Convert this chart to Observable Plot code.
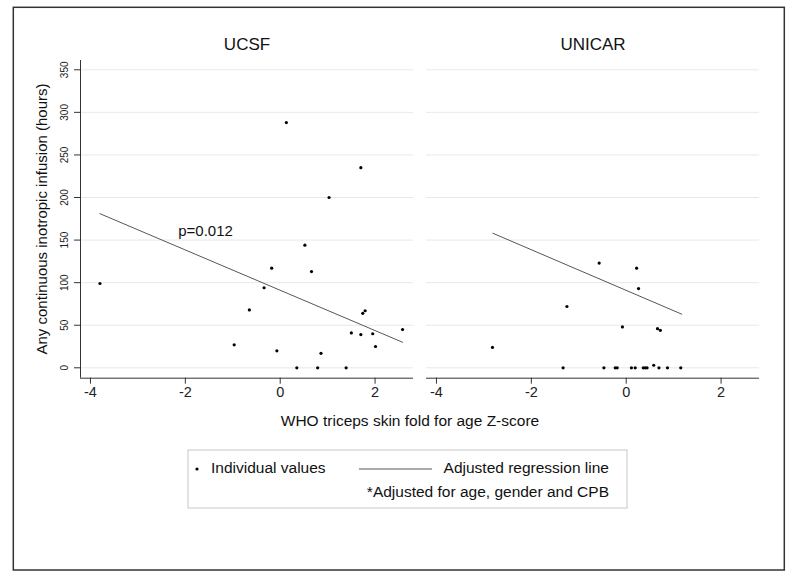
<!DOCTYPE html>
<html><head><meta charset="utf-8">
<script src="https://cdn.jsdelivr.net/npm/d3@7"></script>
<script src="https://cdn.jsdelivr.net/npm/@observablehq/plot@0.6"></script>
<style>html,body{margin:0;padding:0;background:#fff;} #chart{width:800px;height:584px;}</style>
</head><body><div id="chart"></div>
<script>
// ---- data ----
const sites = ["UCSF", "UNICAR"];
const ucsfX = [-3.80, 0.13, 1.70, 1.03, 0.52, 0.66, -0.18, -0.34, -0.65, -0.97, -0.07, 0.35, 0.79, 0.86, 1.39, 1.50, 1.70, 1.74, 1.79, 1.95, 2.01, 2.58];
const ucsfY = [99, 288, 235, 200, 144, 113, 117, 94, 68, 27, 20, 0, 0, 17, 0, 41, 39, 64, 67, 40, 25, 45];
const unicarX = [-2.82, -1.33, -1.25, -0.57, -0.47, -0.23, -0.19, -0.08, 0.11, 0.19, 0.22, 0.26, 0.36, 0.40, 0.44, 0.58, 0.66, 0.69, 0.72, 0.87, 1.15];
const unicarY = [24, 0, 72, 123, 0, 0, 0, 48, 0, 0, 117, 93, 0, 0, 0, 3, 46, 0, 44, 0, 0];
const ucsfLineX = [-3.80, 2.58];
const ucsfLineY = [181, 30];
const unicarLineX = [-2.81, 1.17];
const unicarLineY = [158, 63];
const xTicks = [-4, -2, 0, 2];
const yTicks = [0, 50, 100, 150, 200, 250, 300, 350];
const xDomain = [-4.21, 2.81];
const yDomain = [-12.2, 360.9];
const annotations = [{site: "UCSF", x: -2.15, y: 161, label: "p=0.012"}];
const xLabel = "WHO triceps skin fold for age Z-score";
const yLabel = "Any continuous inotropic infusion (hours)";
const legendDots = "Individual values";
const legendLine = "Adjusted regression line";
const legendNote = "*Adjusted for age, gender and CPB";

// ---- tables ----
const points = [
  ...ucsfX.map((x, i) => ({site: "UCSF", x, y: ucsfY[i]})),
  ...unicarX.map((x, i) => ({site: "UNICAR", x, y: unicarY[i]}))
];
const lines = [
  ...ucsfLineX.map((x, i) => ({site: "UCSF", x, y: ucsfLineY[i]})),
  ...unicarLineX.map((x, i) => ({site: "UNICAR", x, y: unicarLineY[i]}))
];

const font = "'Liberation Sans', Arial, Helvetica, sans-serif";
const plot = Plot.plot({
  width: 800, height: 584,
  marginTop: 60, marginBottom: 206.3, marginLeft: 79.3, marginRight: 41,
  style: {fontFamily: font, background: "#fff", color: "#222", overflow: "visible"},
  x: {domain: xDomain},
  y: {domain: yDomain},
  fx: {domain: sites, paddingInner: 0.0384, paddingOuter: 0, axis: null},
  marks: [
    Plot.gridY(yTicks, {stroke: "#e4eaea", strokeOpacity: 1}),
    Plot.ruleY([yDomain[0]], {stroke: "#333", strokeWidth: 1}),
    Plot.ruleX([{site: "UCSF"}], {x: () => xDomain[0], fx: "site", stroke: "#333", strokeWidth: 1}),
    Plot.axisY({ticks: yTicks, tickSize: 6, tickRotate: -90, tickPadding: 7, fontSize: 10, label: null, stroke: "#333", tickFormat: d => String(d)}),
    Plot.axisX({ticks: xTicks, tickSize: 6, fontSize: 14.5, label: null, stroke: "#333", tickFormat: d => String(d)}),
    Plot.line(lines, {x: "x", y: "y", z: "site", fx: "site", stroke: "#444", strokeWidth: 0.9}),
    Plot.dot(points, {x: "x", y: "y", fx: "site", r: 1.6, fill: "#000", stroke: null}),
    Plot.text(sites, {fx: d => d, text: d => d, frameAnchor: "top", dy: -16, lineAnchor: "middle", fontSize: 17, fill: "#111"}),
    Plot.text(annotations, {x: "x", y: "y", fx: "site", text: "label", textAnchor: "start", lineAnchor: "middle", fontSize: 15, fill: "#111"})
  ]
});

const svg = d3.select(plot);
svg.append("text").attr("transform", "translate(43,219) rotate(-90)")
  .attr("text-anchor", "middle").attr("dominant-baseline", "middle")
  .attr("font-size", 15).attr("fill", "#111").attr("font-family", font).text(yLabel);
svg.append("text").attr("x", 410).attr("y", 422)
  .attr("text-anchor", "middle").attr("dominant-baseline", "middle")
  .attr("font-size", 15.5).attr("fill", "#111").attr("font-family", font).text(xLabel);
// legend
const lg = svg.append("g").attr("font-family", font).attr("font-size", 15.5).attr("fill", "#111");
lg.append("rect").attr("x", 188).attr("y", 450).attr("width", 439).attr("height", 58)
  .attr("fill", "none").attr("stroke", "#c8c8c8").attr("stroke-width", 1);
lg.append("circle").attr("cx", 197).attr("cy", 469).attr("r", 1.6).attr("fill", "#000");
lg.append("text").attr("x", 211).attr("y", 469).attr("text-anchor", "start").attr("dominant-baseline", "middle").text(legendDots);
lg.append("line").attr("x1", 359).attr("x2", 432).attr("y1", 469).attr("y2", 469).attr("stroke", "#444").attr("stroke-width", 0.9);
lg.append("text").attr("x", 609).attr("y", 469).attr("text-anchor", "end").attr("dominant-baseline", "middle").text(legendLine);
lg.append("text").attr("x", 609).attr("y", 493).attr("text-anchor", "end").attr("dominant-baseline", "middle").text(legendNote);
// outer border
svg.append("rect").attr("x", 13.3).attr("y", 7.3).attr("width", 771).attr("height", 562.7)
  .attr("fill", "none").attr("stroke", "#333").attr("stroke-width", 1.5);

document.getElementById("chart").appendChild(plot);
</script>
</body></html>
